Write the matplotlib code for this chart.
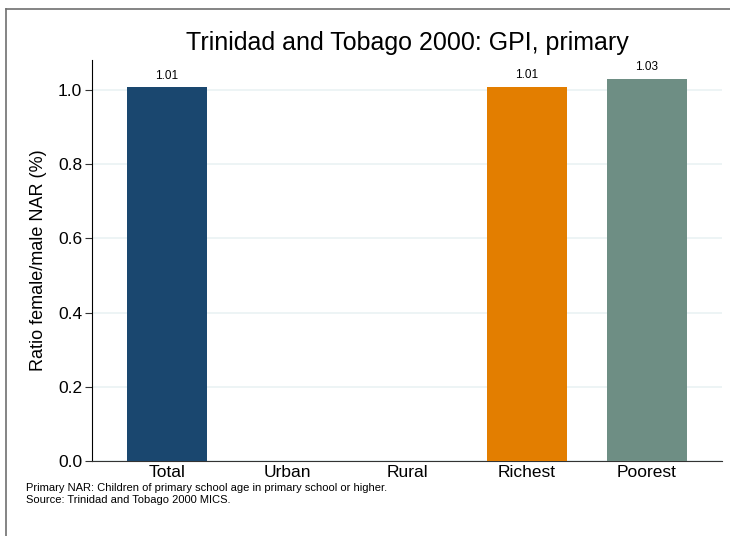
import matplotlib
matplotlib.use("Agg")
import matplotlib.pyplot as plt
from matplotlib.lines import Line2D

plt.rcParams['font.family'] = ['Liberation Sans', 'DejaVu Sans']

# data
categories = ["Total", "Urban", "Rural", "Richest", "Poorest"]
values = [1.007, None, None, 1.009, 1.03]
labels = ["1.01", "", "", "1.01", "1.03"]
colors = ["#1a476f", "#1a476f", "#1a476f", "#e37e00", "#6e8e84"]
yticks = [0.0, 0.2, 0.4, 0.6, 0.8, 1.0]

fig = plt.figure(figsize=(7.30, 5.36), dpi=100)
ax = fig.add_axes([92 / 730, 1 - 461 / 536, 630 / 730, 401 / 536])

for i, (v, lab, c) in enumerate(zip(values, labels, colors)):
    if v is None:
        continue
    ax.bar(i, v, width=0.667, color=c, zorder=3)
    ax.text(i, v + 0.016, lab, ha="center", va="bottom", fontsize=8.5)

ax.set_xlim(-0.625, 4.625)
ax.set_ylim(0, 1.081)
ax.set_xticks(range(len(categories)))
ax.set_xticklabels(categories, fontsize=12.5)
ax.tick_params(axis="x", length=0, pad=3)
ax.set_yticks(yticks)
ax.set_yticklabels([f"{t:.1f}" for t in yticks], fontsize=12.5)
ax.tick_params(axis="y", length=5, width=0.8, color="#333333", pad=2)
ax.yaxis.grid(True, color="#eaf2f3", linewidth=1.2, zorder=0)
ax.set_axisbelow(True)
for s in ["top", "right"]:
    ax.spines[s].set_visible(False)
ax.spines["left"].set_linewidth(0.8)
ax.spines["bottom"].set_linewidth(0.8)
ax.spines["bottom"].set_color("#333333")
ax.set_ylabel("Ratio female/male NAR (%)", fontsize=13, labelpad=8)

fig.text(407 / 730, 1 - 43 / 536, "Trinidad and Tobago 2000: GPI, primary",
         ha="center", va="center", fontsize=18)
fig.text(26 / 730, 1 - 488 / 536,
         "Primary NAR: Children of primary school age in primary school or higher.",
         ha="left", va="center", fontsize=8)
fig.text(26 / 730, 1 - 500 / 536, "Source: Trinidad and Tobago 2000 MICS.",
         ha="left", va="center", fontsize=8)

# outer frame (top and left edges)
fig.add_artist(Line2D([6 / 730, 1], [1 - 9 / 536, 1 - 9 / 536],
                      transform=fig.transFigure, color="#707070", linewidth=1.2))
fig.add_artist(Line2D([6 / 730, 6 / 730], [0, 1 - 9 / 536],
                      transform=fig.transFigure, color="#707070", linewidth=1.2))

fig.savefig("out.png", dpi=100)
